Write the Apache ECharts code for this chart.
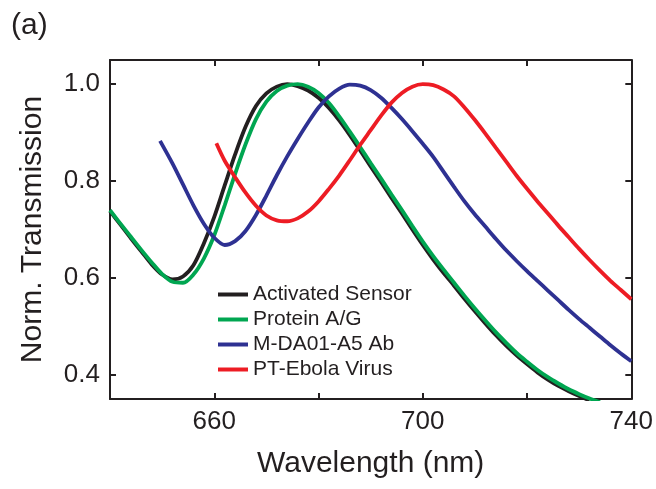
<!DOCTYPE html>
<html>
<head>
<meta charset="utf-8">
<script src="https://cdn.jsdelivr.net/npm/echarts@6/dist/echarts.min.js"></script>
<style>
html, body { margin: 0; padding: 0; background: #fff; }
#chart { width: 656px; height: 489px; }
</style>
</head>
<body>
<div id="chart"></div>
<script>
// wavelength grids (nm)
var wlSensor = [640,642,644,646,648,650,652,654,656,658,660,662,664,666,668,670,672,674,676,678,680,682,684,686,688,690,692,694,696,698,700,702,704,706,708,710,712,714,716,718,720,722,724,726,728,730,732];
var wlProtein = [640,642,644,646,648,650,652,654,656,658,660,662,664,666,668,670,672,674,676,678,680,682,684,686,688,690,692,694,696,698,700,702,704,706,708,710,712,714,716,718,720,722,724,726,728,730,732,734];
var wlAb = [649.6,652,654,656,658,660,662,664,666,668,670,672,674,676,678,680,682,684,686,688,690,692,694,696,698,700,702,704,706,708,710,712,714,716,718,720,722,724,726,728,730,732,734,736,738,740];
var wlVirus = [660.4,662,664,666,668,670,672,674,676,678,680,682,684,686,688,690,692,694,696,698,700,702,704,706,708,710,712,714,716,718,720,722,724,726,728,730,732,734,736,738,740];

// normalized transmission
var tSensor = [0.738,0.710,0.682,0.655,0.628,0.607,0.597,0.603,0.626,0.671,0.726,0.791,0.855,0.912,0.955,0.981,0.995,1.000,0.996,0.987,0.972,0.951,0.925,0.895,0.863,0.830,0.798,0.765,0.733,0.700,0.668,0.638,0.610,0.584,0.557,0.531,0.506,0.482,0.460,0.440,0.422,0.405,0.390,0.377,0.366,0.356,0.347];
var tProtein = [0.740,0.712,0.685,0.658,0.632,0.608,0.592,0.590,0.607,0.640,0.688,0.750,0.815,0.876,0.928,0.964,0.986,0.997,1.000,0.995,0.982,0.961,0.933,0.902,0.870,0.837,0.805,0.772,0.740,0.707,0.675,0.645,0.617,0.590,0.563,0.537,0.512,0.488,0.466,0.445,0.427,0.410,0.395,0.382,0.370,0.360,0.351,0.343];
var tAb = [0.883,0.836,0.793,0.750,0.712,0.683,0.668,0.676,0.697,0.730,0.770,0.812,0.851,0.887,0.921,0.952,0.975,0.991,0.999,0.997,0.988,0.972,0.951,0.928,0.903,0.877,0.850,0.819,0.788,0.758,0.731,0.706,0.681,0.657,0.635,0.614,0.594,0.574,0.554,0.534,0.515,0.497,0.479,0.461,0.444,0.428];
var tVirus = [0.878,0.842,0.808,0.776,0.749,0.729,0.719,0.717,0.723,0.737,0.758,0.784,0.812,0.843,0.875,0.905,0.935,0.962,0.982,0.995,1.000,0.998,0.989,0.975,0.952,0.926,0.898,0.869,0.840,0.811,0.784,0.758,0.733,0.708,0.684,0.660,0.637,0.615,0.594,0.575,0.556];

var seriesNames = ["Activated Sensor", "Protein A/G", "M-DA01-A5 Ab", "PT-Ebola Virus"];
var seriesColors = ["#231f20", "#00a651", "#2e3192", "#ed1c24"];
var xLabelTicks = [660, 700, 740];
var xMinorTicks = [660, 680, 700, 720];
var yTicks = [0.4, 0.6, 0.8, 1.0];

function zip(xs, ys) {
    return xs.map(function (x, i) { return [x, ys[i]]; });
}

var font = "Liberation Sans, Arial, Helvetica, sans-serif";
var ink = "#231f20";

var myChart = echarts.init(document.getElementById("chart"));

var makeSeries = function (idx, xs, ys) {
    return {
        name: seriesNames[idx],
        type: "line",
        data: zip(xs, ys),
        smooth: 0.3,
        showSymbol: false,
        symbol: "none",
        color: seriesColors[idx],
        lineStyle: { width: 3.8, color: seriesColors[idx] },
        itemStyle: { color: seriesColors[idx] }
    };
};

var option = {
    animation: false,
    backgroundColor: "#fff",
    grid: { left: 110, right: 24, top: 60, bottom: 90 },
    graphic: [{
        type: "text", left: 11, top: 11,
        style: { text: "(a)", font: "30px " + font, fill: ink }
    }],
    legend: {
        data: seriesNames,
        orient: "vertical",
        left: 218, top: 284,
        itemWidth: 30, itemHeight: 4, itemGap: 4,
        icon: "rect",
        padding: 0,
        textStyle: { fontFamily: font, fontSize: 21, color: ink, padding: [0, 0, 0, 0] }
    },
    xAxis: [{
        type: "value", min: 640, max: 740,
        name: "Wavelength (nm)", nameLocation: "middle", nameGap: 50,
        nameTextStyle: { fontFamily: font, fontSize: 30, color: ink },
        axisLine: { show: true, lineStyle: { color: ink, width: 2 } },
        axisTick: { inside: true, length: 6, customValues: xMinorTicks, lineStyle: { color: ink, width: 2 } },
        axisLabel: { customValues: xLabelTicks, fontFamily: font, fontSize: 26, color: ink, margin: 10 },
        splitLine: { show: false }
    }, {
        type: "value", min: 640, max: 740, position: "top",
        axisLine: { show: true, lineStyle: { color: ink, width: 2 } },
        axisTick: { inside: true, length: 6, customValues: xMinorTicks, lineStyle: { color: ink, width: 2 } },
        axisLabel: { show: false },
        splitLine: { show: false }
    }],
    yAxis: [{
        type: "value", min: 0.35, max: 1.05,
        name: "Norm. Transmission", nameLocation: "middle", nameGap: 62,
        nameTextStyle: { fontFamily: font, fontSize: 30, color: ink },
        axisLine: { show: true, lineStyle: { color: ink, width: 2 } },
        axisTick: { inside: true, length: 6, customValues: yTicks, lineStyle: { color: ink, width: 2 } },
        axisLabel: {
            customValues: yTicks, fontFamily: font, fontSize: 26, color: ink, margin: 10,
            formatter: function (v) { return v.toFixed(1); }
        },
        splitLine: { show: false }
    }, {
        type: "value", min: 0.35, max: 1.05, position: "right",
        axisLine: { show: true, lineStyle: { color: ink, width: 2 } },
        axisTick: { inside: true, length: 6, customValues: yTicks, lineStyle: { color: ink, width: 2 } },
        axisLabel: { show: false },
        splitLine: { show: false }
    }],
    series: [
        makeSeries(0, wlSensor, tSensor),
        makeSeries(1, wlProtein, tProtein),
        makeSeries(2, wlAb, tAb),
        makeSeries(3, wlVirus, tVirus)
    ]
};

myChart.setOption(option);
</script>
</body>
</html>
